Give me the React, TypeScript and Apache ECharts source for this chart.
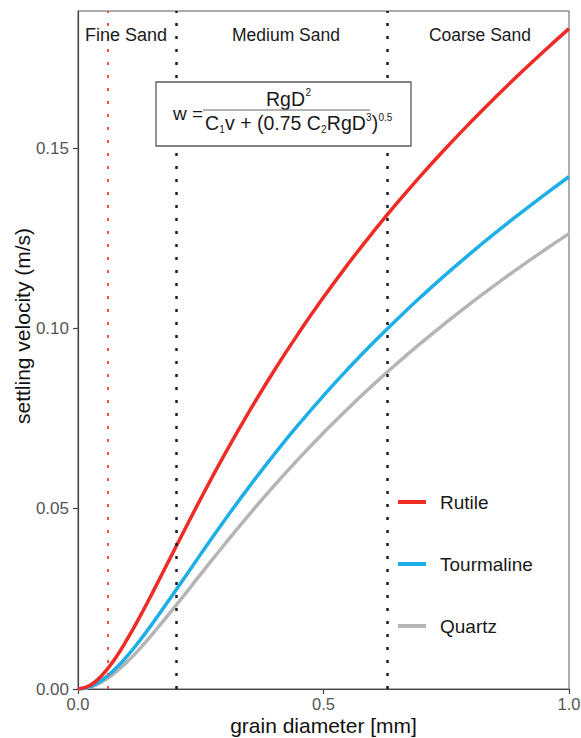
import React, { useEffect, useRef } from "react";
import * as echarts from "echarts";

const diameters = [0, 0.025, 0.05, 0.075, 0.1, 0.125, 0.15, 0.2, 0.25, 0.3, 0.35, 0.4, 0.45, 0.5, 0.55, 0.6, 0.65, 0.7, 0.75, 0.8, 0.85, 0.9, 0.95, 1.0];
const rutile = [0, 0.00105, 0.00398, 0.00835, 0.01374, 0.01979, 0.02624, 0.03958, 0.05277, 0.06538, 0.07726, 0.0884, 0.09883, 0.10862, 0.11784, 0.12653, 0.13477, 0.14261, 0.15007, 0.15721, 0.16406, 0.17064, 0.17699, 0.18311];
const tourmaline = [0, 0.00067, 0.00257, 0.00546, 0.00911, 0.0133, 0.01785, 0.02753, 0.0374, 0.04707, 0.05633, 0.06514, 0.07347, 0.08134, 0.08879, 0.09585, 0.10255, 0.10894, 0.11503, 0.12087, 0.12646, 0.13184, 0.13703, 0.14203];
const quartz = [0, 0.00055, 0.0021, 0.00449, 0.00753, 0.01106, 0.01493, 0.02325, 0.03184, 0.04035, 0.04858, 0.05646, 0.06395, 0.07105, 0.0778, 0.0842, 0.0903, 0.09611, 0.10166, 0.10698, 0.11208, 0.11699, 0.12172, 0.12628];
const seriesNames = ["Rutile", "Tourmaline", "Quartz"];
const boundaries = [0.063, 0.2, 0.63];
const regionLabels = ["Fine Sand", "Medium Sand", "Coarse Sand"];

const FONT = "Liberation Sans, Arial, sans-serif";

export default function App() {
  const ref = useRef<HTMLDivElement>(null);
  useEffect(() => {
    document.body.style.margin = "0";
    const chart = echarts.init(ref.current!, null, { renderer: "svg" });
    const pair = (ys: number[]) => diameters.map((d, i) => [d, ys[i]]);
    const txt = (text: string, x: number, y: number, size: number, align = "left", color = "#1a1a1a") => ({
      type: "text",
      x,
      y,
      z: 101,
      style: { text, fontSize: size, fontFamily: FONT, fill: color, align, verticalAlign: "middle" },
    });
    chart.setOption({
      animation: false,
      backgroundColor: "#ffffff",
      grid: { left: 78, right: 12, top: 11, bottom: 49, outerBoundsMode: "none", containLabel: false, show: true, borderColor: "#5a5a5a", borderWidth: 1 },
      xAxis: {
        type: "value",
        min: 0,
        max: 1,
        interval: 0.5,
        name: "grain diameter [mm]",
        nameLocation: "middle",
        nameGap: 26,
        nameMoveOverlap: false,
        nameTextStyle: { fontSize: 21, fontFamily: FONT, color: "#111" },
        axisLine: { show: true, lineStyle: { color: "#444", width: 1.2 } },
        axisTick: { show: true, length: 5, lineStyle: { color: "#444", width: 1.2 } },
        axisLabel: { fontSize: 16.5, fontFamily: FONT, color: "#555", margin: 6, formatter: (v: number) => v.toFixed(1) },
        splitLine: { show: false },
      },
      yAxis: {
        type: "value",
        min: 0,
        max: 0.188,
        interval: 0.05,
        axisLine: { show: true, lineStyle: { color: "#444", width: 1.2 } },
        axisTick: { show: true, length: 5, lineStyle: { color: "#444", width: 1.2 } },
        axisLabel: { fontSize: 17, fontFamily: FONT, color: "#555", margin: 9, showMaxLabel: false, formatter: (v: number) => v.toFixed(2) },
        splitLine: { show: false },
      },
      legend: {
        orient: "vertical",
        left: 398,
        top: 492,
        padding: 0,
        itemWidth: 28,
        itemHeight: 4,
        itemGap: 42,
        icon: "rect",
        data: seriesNames,
        textStyle: { fontSize: 19, fontFamily: FONT, color: "#1a1a1a", lineHeight: 20, padding: [0, 0, 0, 9] },
      },
      series: [
        {
          name: "Quartz",
          type: "line",
          data: pair(quartz),
          smooth: true,
          showSymbol: false,
          color: "#b5b5b5",
          lineStyle: { width: 3.5, color: "#b5b5b5" },
          z: 2,
          markLine: {
            silent: true,
            symbol: "none",
            label: { show: false },
            data: [
              { xAxis: boundaries[0], lineStyle: { color: "#f2553d", type: [3, 10], width: 2 } },
              { xAxis: boundaries[1], lineStyle: { color: "#1c1c2a", type: [3, 10], width: 2.5 } },
              { xAxis: boundaries[2], lineStyle: { color: "#1c1c2a", type: [3, 10], width: 2.5 } },
            ],
          },
        },
        { name: "Tourmaline", type: "line", data: pair(tourmaline), smooth: true, showSymbol: false, color: "#1eaee8", lineStyle: { width: 3.5, color: "#1eaee8" }, z: 3 },
        { name: "Rutile", type: "line", data: pair(rutile), smooth: true, showSymbol: false, color: "#ee2b24", lineStyle: { width: 3.5, color: "#ee2b24" }, z: 4 },
      ],
      graphic: [
        {
          type: "text",
          x: 22,
          y: 326,
          rotation: Math.PI / 2,
          z: 101,
          style: { text: "settling velocity (m/s)", fontSize: 21, fontFamily: FONT, fill: "#111", align: "center", verticalAlign: "middle" },
        },
        txt(regionLabels[0], 126, 35, 18, "center"),
        txt(regionLabels[1], 286, 35, 17.5, "center"),
        txt(regionLabels[2], 480, 35, 17.5, "center"),
        {
          type: "rect",
          z: 100,
          shape: { x: 156, y: 82, width: 255, height: 64 },
          style: { fill: "#ffffff", stroke: "#5a5a5a", lineWidth: 1.3 },
        },
        txt("w =", 173, 113, 19),
        txt("RgD", 266, 99, 19.5),
        txt("2", 305.5, 92, 10),
        { type: "line", z: 101, shape: { x1: 203, y1: 110, x2: 370, y2: 110 }, style: { stroke: "#666", lineWidth: 1 } },
        txt("C", 205, 123, 19.5),
        txt("1", 219.3, 129, 10),
        txt("v + (0.75 C", 225, 123, 19.5),
        txt("2", 321, 129, 10),
        txt("RgD", 326.8, 123, 19.5),
        txt("3", 366, 117, 10),
        txt(")", 371.8, 123, 19.5),
        txt("0.5", 378.5, 117, 10),
      ],
    });
    return () => chart.dispose();
  }, []);
  return <div ref={ref} style={{ width: 581, height: 738 }} />;
}
